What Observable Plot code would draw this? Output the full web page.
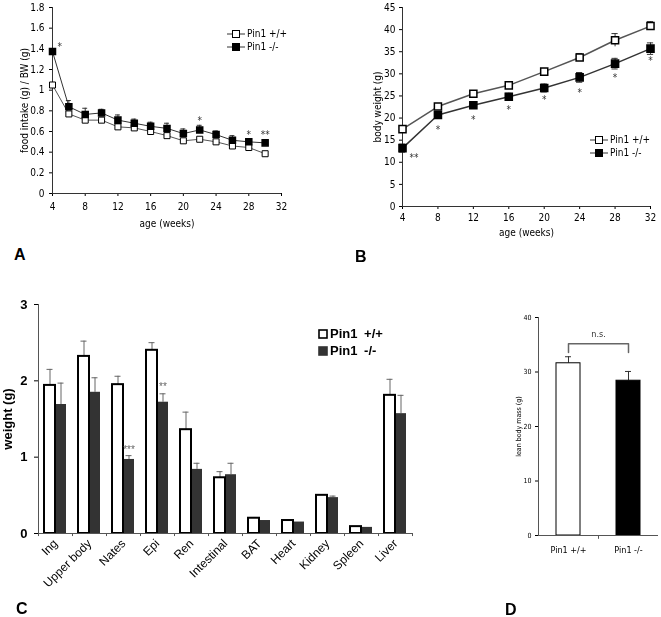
<!DOCTYPE html>
<html><head><meta charset="utf-8">
<script src="https://cdn.jsdelivr.net/npm/d3@7"></script>
<script src="https://cdn.jsdelivr.net/npm/@observablehq/plot@0.6"></script>
<style>
body{margin:0;background:#fff;}
#root{position:relative;width:661px;height:617px;overflow:hidden;background:#fff;}
.panel{position:absolute;will-change:transform;}
.panel svg{overflow:visible;}
.letter{position:absolute;font:bold 16px "Liberation Sans",Arial,sans-serif;line-height:14px;}
.leg{display:flex;align-items:center;white-space:nowrap;color:#000;}
.leg svg{margin-right:2px;flex:none;}
</style></head><body><div id="root"></div>
<script>
// ---------- Panel A: food intake / BW ----------
const weeksA = [4,6,8,10,12,14,16,18,20,22,24,26,28,30];
const foodWT = [1.05,0.77,0.71,0.71,0.645,0.635,0.60,0.56,0.51,0.525,0.50,0.46,0.445,0.385];
const foodWTerr = [0.02,0.02,0.015,0.015,0.02,0.02,0.02,0.02,0.015,0.015,0.015,0.015,0.015,0.015];
const foodKO = [1.374,0.84,0.765,0.78,0.71,0.68,0.65,0.63,0.58,0.615,0.57,0.515,0.50,0.49];
const foodKOerr = [0.02,0.06,0.06,0.035,0.05,0.04,0.04,0.05,0.045,0.045,0.035,0.045,0.03,0.02];
const xTicksA = [4,8,12,16,20,24,28,32];
const yTicksA = [0,0.2,0.4,0.6,0.8,1,1.2,1.4,1.6,1.8];
const starsA = [{x:4.9,y:1.42,t:"*"},{x:22,y:0.70,t:"*"},{x:28,y:0.57,t:"*"},{x:30,y:0.57,t:"**"}];

// ---------- Panel B: body weight ----------
const weeksB = [4,8,12,16,20,24,28,32];
const bwWT = [17.5,22.6,25.5,27.4,30.5,33.7,37.6,40.8];
const bwWTerr = [0.5,0.5,0.5,0.5,0.6,0.9,1.5,1.0];
const bwKO = [13.2,20.7,22.9,24.8,26.8,29.2,32.3,35.7];
const bwKOerr = [0.9,0.6,0.5,0.8,0.9,1.1,1.2,1.3];
const xTicksB = [4,8,12,16,20,24,28,32];
const yTicksB = [0,5,10,15,20,25,30,35,40,45];
const starsB = [{x:5.3,y:11.0,t:"**"},{x:8,y:17.4,t:"*"},{x:12,y:19.6,t:"*"},{x:16,y:21.8,t:"*"},{x:20,y:24.2,t:"*"},{x:24,y:25.7,t:"*"},{x:28,y:29.1,t:"*"},{x:32,y:32.9,t:"*"}];

// ---------- Panel C: tissue weights ----------
const tissues = ["Ing","Upper body","Nates","Epi","Ren","Intestinal","BAT","Heart","Kidney","Spleen","Liver"];
const tissueWT = [1.94,2.32,1.95,2.40,1.36,0.73,0.20,0.17,0.50,0.09,1.81];
const tissueWTerr = [0.21,0.20,0.11,0.10,0.23,0.08,0.01,0,0,0,0.21];
const tissueKO = [1.69,1.85,0.97,1.72,0.84,0.77,0.17,0.15,0.47,0.08,1.57];
const tissueKOerr = [0.28,0.19,0.05,0.11,0.08,0.15,0,0,0.02,0,0.24];
const yTicksC = [0,1,2,3];
const starsC = [{cat:"Nates",y:1.1,t:"***"},{cat:"Epi",y:1.92,t:"**"}];

// ---------- Panel D: lean body mass ----------
const genotypes = ["Pin1 +/+","Pin1 -/-"];
const leanMass = [31.6,28.4];
const leanErr = [1.2,1.7];
const yTicksD = [0,10,20,30,40];
const bracketD = [{g:"Pin1 +/+",y:33.6},{g:"Pin1 +/+",y:35.2},{g:"Pin1 -/-",y:35.2},{g:"Pin1 -/-",y:33.6}];

const NARROW = '"Liberation Sans Narrow","DejaVu Sans Condensed","Liberation Sans",Arial,sans-serif';
const SANS = '"Liberation Sans",Arial,sans-serif';
const root = document.getElementById("root");
function place(el, left, top){ const d=document.createElement("div"); d.className="panel"; d.style.left=left+"px"; d.style.top=top+"px"; d.appendChild(el); root.appendChild(d); }
function letter(t,l,tp){ const d=document.createElement("div"); d.className="letter"; d.textContent=t; d.style.left=l+"px"; d.style.top=tp+"px"; root.appendChild(d); }

// Panel A
const rowsA = weeksA.map((w,i)=>({week:w, wt:foodWT[i], wtE:foodWTerr[i], ko:foodKO[i], koE:foodKOerr[i]}));
const plotA = Plot.plot({
  width:330, height:240, marginLeft:52, marginRight:49, marginTop:7, marginBottom:47,
  style:{fontFamily:NARROW, fontSize:"10px", background:"transparent"},
  x:{domain:[4,32]}, y:{domain:[0,1.8]},
  marks:[
    Plot.axisX({ticks:xTicksA, tickSize:3, tickPadding:6, label:"age (weeks)", labelAnchor:"center", labelOffset:33, labelArrow:"none", fontSize:10}),
    Plot.axisY({ticks:yTicksA, tickFormat:d=>String(+d.toFixed(1)), tickSize:3, tickPadding:5, label:"food intake (g) / BW (g)", labelAnchor:"center", labelOffset:32, labelArrow:"none", fontSize:10}),
    Plot.ruleY([0], {stroke:"#333"}),
    Plot.ruleX([4], {stroke:"#333"}),
    Plot.ruleX(rowsA, {x:"week", y1:"ko", y2:d=>d.ko+d.koE, stroke:"#333"}),
    Plot.ruleY(rowsA, {y:d=>d.ko+d.koE, x1:d=>d.week-0.3, x2:d=>d.week+0.3, stroke:"#333"}),
    Plot.ruleX(rowsA, {x:"week", y1:"wt", y2:d=>d.wt+d.wtE, stroke:"#333"}),
    Plot.line(rowsA, {x:"week", y:"wt", stroke:"#555", strokeWidth:1}),
    Plot.line(rowsA, {x:"week", y:"ko", stroke:"#333", strokeWidth:1}),
    Plot.dot(rowsA, {x:"week", y:"wt", symbol:"square", r:3.4, fill:"white", stroke:"black", strokeWidth:1}),
    Plot.dot(rowsA, {x:"week", y:"ko", symbol:"square", r:3.4, fill:"black", stroke:"black"}),
    Plot.text(starsA, {x:"x", y:"y", text:"t", fontSize:10, fill:"#333"})
  ]
});
place(plotA, 0, 0);

// Panel B
const rowsB = weeksB.map((w,i)=>({week:w, wt:bwWT[i], wtE:bwWTerr[i], ko:bwKO[i], koE:bwKOerr[i]}));
const plotB = Plot.plot({
  width:331, height:240, marginLeft:72, marginRight:11, marginTop:7, marginBottom:34,
  style:{fontFamily:NARROW, fontSize:"10px", background:"transparent"},
  x:{domain:[4,32]}, y:{domain:[0,45]},
  marks:[
    Plot.axisX({ticks:xTicksB, tickSize:3, tickPadding:4, label:"age (weeks)", labelAnchor:"center", labelOffset:29, labelArrow:"none", fontSize:10}),
    Plot.axisY({ticks:yTicksB, tickSize:3, tickPadding:4, label:"body weight (g)", labelAnchor:"center", labelOffset:29, labelArrow:"none", fontSize:10}),
    Plot.ruleY([0], {stroke:"#333"}),
    Plot.ruleX([4], {stroke:"#333"}),
    Plot.ruleX(rowsB, {x:"week", y1:d=>d.ko-d.koE, y2:d=>d.ko+d.koE, stroke:"#333"}),
    Plot.ruleY(rowsB, {y:d=>d.ko+d.koE, x1:d=>d.week-0.35, x2:d=>d.week+0.35, stroke:"#333"}),
    Plot.ruleY(rowsB, {y:d=>d.ko-d.koE, x1:d=>d.week-0.35, x2:d=>d.week+0.35, stroke:"#333"}),
    Plot.ruleX(rowsB, {x:"week", y1:d=>d.wt-d.wtE, y2:d=>d.wt+d.wtE, stroke:"#333"}),
    Plot.ruleY(rowsB, {y:d=>d.wt+d.wtE, x1:d=>d.week-0.35, x2:d=>d.week+0.35, stroke:"#333"}),
    Plot.line(rowsB, {x:"week", y:"wt", stroke:"#555"}),
    Plot.line(rowsB, {x:"week", y:"ko", stroke:"#333"}),
    Plot.dot(rowsB, {x:"week", y:"wt", symbol:"square", r:4, fill:"white", stroke:"black"}),
    Plot.dot(rowsB, {x:"week", y:"ko", symbol:"square", r:4, fill:"black", stroke:"black"}),
    Plot.text(starsB, {x:"x", y:"y", text:"t", fontSize:10, fill:"#333"})
  ]
});
place(plotB, 330, 0);

// Panel C
const rowsC = tissues.map((c,i)=>({cat:c, wt:tissueWT[i], wtE:tissueWTerr[i], ko:tissueKO[i], koE:tissueKOerr[i]}));
const plotC = Plot.plot({
  width:420, height:320, marginLeft:38, marginRight:8, marginTop:14, marginBottom:77,
  style:{fontFamily:SANS, fontSize:"12px", background:"transparent"},
  x:{domain:tissues, padding:0}, y:{domain:[0,3]},
  marks:[
    Plot.axisX({tickSize:0, tickRotate:-45, tickPadding:8, label:null, fontSize:12}),
    Plot.axisY({ticks:yTicksC, tickFormat:d=>String(d), tickSize:4, tickPadding:7, label:"weight (g)", labelAnchor:"center", labelOffset:36, labelArrow:"none", fontSize:13, fontWeight:"bold"}),
    Plot.ruleX([tissues[0]], {y1:0, y2:3, dx:-17, stroke:"#555"}),
    Plot.ruleX(tissues, {y1:0, y2:-0.04, dx:-17, stroke:"#555"}),
    Plot.ruleX([tissues[tissues.length-1]], {y1:0, y2:-0.04, dx:17, stroke:"#555"}),
    Plot.ruleX(rowsC.filter(d=>d.wtE>0), {x:"cat", y1:"wt", y2:d=>d.wt+d.wtE, dx:-5.5, stroke:"#666"}),
    Plot.tickY(rowsC.filter(d=>d.wtE>0), {x:"cat", y:d=>d.wt+d.wtE, insetLeft:8.5, insetRight:19.5, stroke:"#666"}),
    Plot.ruleX(rowsC.filter(d=>d.koE>0), {x:"cat", y1:"ko", y2:d=>d.ko+d.koE, dx:5.5, stroke:"#666"}),
    Plot.tickY(rowsC.filter(d=>d.koE>0), {x:"cat", y:d=>d.ko+d.koE, insetLeft:19.5, insetRight:8.5, stroke:"#666"}),
    Plot.barY(rowsC, {x:"cat", y:"ko", fill:"#333", insetLeft:17, insetRight:6}),
    Plot.barY(rowsC, {x:"cat", y:"wt", fill:"white", stroke:"black", strokeWidth:2, insetLeft:6, insetRight:17}),
    Plot.ruleY([0], {stroke:"#555"}),
    Plot.text(starsC, {x:"cat", y:"y", text:"t", dx:5.5, fill:"#666", fontSize:10})
  ]
});
place(plotC, 0, 290);

// Panel D
const rowsD = genotypes.map((g,i)=>({g, v:leanMass[i], e:leanErr[i]}));
const plotD = Plot.plot({
  width:191, height:270, marginLeft:68, marginRight:3, marginTop:17, marginBottom:35,
  style:{fontFamily:NARROW, fontSize:"9px", background:"transparent"},
  x:{domain:genotypes, paddingInner:0.6, paddingOuter:0.3}, y:{domain:[0,40]},
  marks:[
    Plot.axisX({tickSize:0, tickPadding:11, label:null, fontSize:9}),
    Plot.axisY({ticks:yTicksD, tickSize:3, tickPadding:4, label:"lean body mass (g)", labelAnchor:"center", labelOffset:22, labelArrow:"none", fontSize:7}),
    Plot.ruleX([genotypes[0]], {y1:0, y2:40, dx:-30, stroke:"#555"}),
    Plot.ruleX([genotypes[0]], {y1:0, y2:-0.7, dx:30, stroke:"#555"}),
    Plot.ruleX(rowsD, {x:"g", y1:"v", y2:d=>d.v+d.e, stroke:"#333"}),
    Plot.tickY(rowsD, {x:"g", y:d=>d.v+d.e, insetLeft:9, insetRight:9, stroke:"#333"}),
    Plot.barY(rowsD, {x:"g", y:"v", fill:d=>d.g===genotypes[0]?"white":"black", stroke:"black", strokeWidth:1}),
    Plot.ruleY([0], {stroke:"#555"}),
    Plot.line(bracketD, {x:"g", y:"y", stroke:"#666"}),
    Plot.text([genotypes[0]], {x:d=>d, y:37, dx:30, text:()=>"n.s.", fontSize:9, fill:"#333"})
  ]
});
place(plotD, 470, 300);

// Legends
function lineLegend(left, top, items, fs){
  const d=document.createElement("div"); d.style.position="absolute"; d.style.left=left+"px"; d.style.top=top+"px";
  items.forEach(it=>{
    const row=document.createElement("div"); row.className="leg"; row.style.height="13px"; row.style.font=fs+"px "+NARROW;
    row.innerHTML=`<svg width="18" height="10"><line x1="0" x2="18" y1="5" y2="5" stroke="#333"/><rect x="5.5" y="1.5" width="7" height="7" fill="${it.fill}" stroke="black"/></svg>`;
    const s=document.createElement("span"); s.textContent=it.label; row.appendChild(s); d.appendChild(row);
  });
  root.appendChild(d);
}
lineLegend(227, 27, [{label:"Pin1 +/+", fill:"white"},{label:"Pin1 -/-", fill:"black"}], 10);
lineLegend(590, 133, [{label:"Pin1 +/+", fill:"white"},{label:"Pin1 -/-", fill:"black"}], 10);
(function(){
  const d=document.createElement("div"); d.style.position="absolute"; d.style.left="318px"; d.style.top="325px";
  [{label:"Pin1 +/+", fill:"white", stroke:"black"},{label:"Pin1 -/-", fill:"#333", stroke:"#333"}].forEach(it=>{
    const row=document.createElement("div"); row.className="leg"; row.style.height="17px"; row.style.font="bold 13px "+SANS;
    row.innerHTML=`<svg width="10" height="10"><rect x="1" y="1" width="8" height="8" fill="${it.fill}" stroke="${it.stroke}" stroke-width="1.6"/></svg>`;
    const s=document.createElement("span"); s.textContent=it.label; s.style.wordSpacing="3px"; row.appendChild(s); d.appendChild(row);
  });
  root.appendChild(d);
})();

letter("A", 14, 248);
letter("B", 355, 250);
letter("C", 16, 602);
letter("D", 505, 603);
</script>
</body></html>
